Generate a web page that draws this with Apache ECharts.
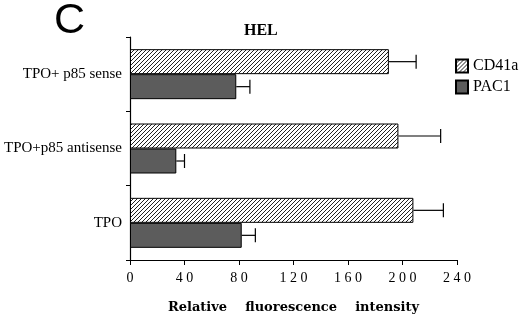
<!DOCTYPE html>
<html>
<head>
<meta charset="utf-8">
<script src="https://cdn.jsdelivr.net/npm/echarts@6/dist/echarts.min.js"></script>
<style>html,body{margin:0;padding:0;background:#fff}#c{width:520px;height:316px}</style>
</head>
<body>
<div id="c"></div>
<script>
const categories = ['TPO+ p85 sense', 'TPO+p85 antisense', 'TPO'];
const cd41a = [190, 197, 208];
const cd41aErr = [20, 31, 22];
const pac1 = [78, 34, 82];
const pac1Err = [10, 6, 10];
const xTicks = [0, 40, 80, 120, 160, 200, 240];

const BAR_W = 25;
const serif = '"Liberation Serif", "Times New Roman", serif';

// hatch pattern
const pc = document.createElement('canvas');
pc.width = 4; pc.height = 4;
const pctx = pc.getContext('2d');
pctx.fillStyle = '#fff'; pctx.fillRect(0, 0, 4, 4);
pctx.fillStyle = '#222';
for (let i = 0; i < 4; i++) pctx.fillRect(i, 3 - i, 1, 1);

function errItem(offset) {
  return function (params, api) {
    const v = api.value(0), e = api.value(1), c = api.value(2);
    const p0 = api.coord([v, c]);
    const p1 = api.coord([v + e, c]);
    const y = p0[1] + offset;
    return {
      type: 'group',
      children: [
        {type: 'line', shape: {x1: p0[0], y1: y, x2: p1[0], y2: y}, style: {stroke: '#000', lineWidth: 1.2}},
        {type: 'line', shape: {x1: p1[0], y1: y - 7, x2: p1[0], y2: y + 7}, style: {stroke: '#000', lineWidth: 1.2}}
      ]
    };
  };
}

const chart = echarts.init(document.getElementById('c'), null, {renderer: 'canvas'});
chart.setOption({
  animation: false,
  backgroundColor: '#fff',
  title: [
    {text: 'C', left: 49, top: -5, textStyle: {fontFamily: '"Liberation Sans", Arial, sans-serif', fontSize: 43, fontWeight: 'normal', color: '#000'}},
    {text: 'HEL', left: 239, top: 18, textStyle: {fontFamily: serif, fontSize: 16, fontWeight: 'bold', color: '#000'}}
  ],
  legend: {
    data: ['CD41a', 'PAC1'],
    orient: 'vertical',
    left: 450, top: 53,
    itemWidth: 12, itemHeight: 13, itemGap: 5,
    icon: 'rect',
    textStyle: {fontFamily: serif, fontSize: 16, color: '#000', padding: [0, 0, 0, 0]}
  },
  grid: {left: 130, right: 63, top: 37, bottom: 56, containLabel: false, outerBoundsMode: 'none'},
  xAxis: {
    type: 'value', min: 0, max: 240, interval: 40,
    splitLine: {show: false},
    axisLine: {show: true, lineStyle: {color: '#000', width: 1.2}},
    axisTick: {show: true, length: 5, lineStyle: {color: '#000'}},
    axisLabel: {
      fontFamily: serif, fontSize: 14, color: '#000', margin: 11,
      formatter: v => xTicks.includes(v) ? String(v).split('').join(' ') : ''
    },
    name: 'Relative    fluorescence    intensity',
    nameLocation: 'middle', nameGap: 41,
    nameTextStyle: {fontFamily: '"DejaVu Serif", serif', fontWeight: 'bold', fontSize: 13, color: '#000'}
  },
  yAxis: {
    type: 'category', data: categories, inverse: true,
    axisLine: {show: true, lineStyle: {color: '#000', width: 1.2}},
    axisTick: {show: true, length: 4, lineStyle: {color: '#000'}},
    axisLabel: {fontFamily: serif, fontSize: 15, color: '#000', margin: 8, padding: [0, 0, 6, 0]}
  },
  series: [
    {name: 'CD41a', type: 'bar', data: cd41a, barWidth: BAR_W, barGap: '0%',
     itemStyle: {color: {image: pc, repeat: 'repeat'}, borderColor: '#000', borderWidth: 1}},
    {name: 'PAC1', type: 'bar', data: pac1, barWidth: BAR_W, barGap: '0%',
     itemStyle: {color: '#5c5c5c', borderColor: '#000', borderWidth: 1}},
    {type: 'custom', name: 'errA', renderItem: errItem(-BAR_W / 2),
     encode: {x: [0, 1], y: 2}, z: 3,
     data: cd41a.map((v, i) => [v, cd41aErr[i], i])},
    {type: 'custom', name: 'errB', renderItem: errItem(BAR_W / 2),
     encode: {x: [0, 1], y: 2}, z: 3,
     data: pac1.map((v, i) => [v, pac1Err[i], i])}
  ]
});
</script>
</body>
</html>
